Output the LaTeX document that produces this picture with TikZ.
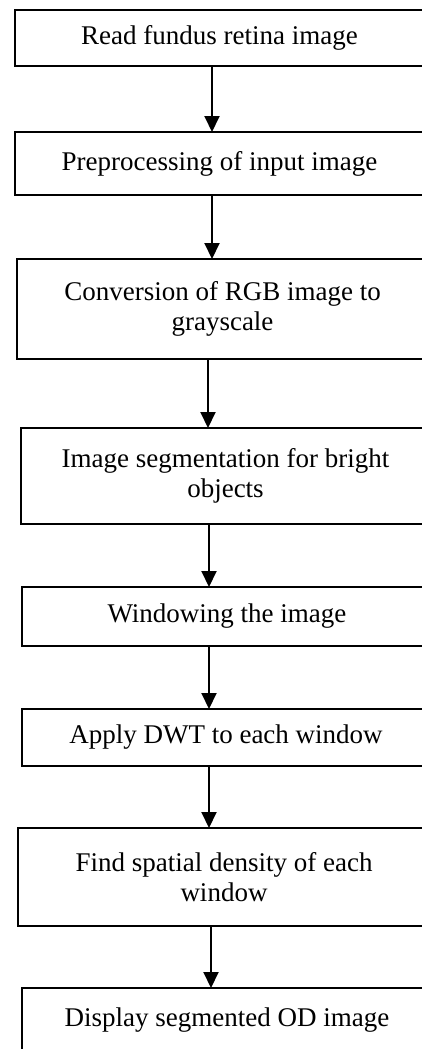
\documentclass[tikz,border=0pt]{standalone}
\usepackage{fontspec}
\setmainfont{Liberation Serif}
\usetikzlibrary{arrows.meta}
\tikzset{
	stepbox/.style={draw, line width=1.6pt, inner sep=0pt, outer sep=0pt, align=center, font=\fontsize{27}{30}\selectfont},
	flow/.style={line width=2pt, -{Triangle[length=16pt,width=15pt]}},
}

\begin{document}
\begin{tikzpicture}[x=1pt,y=-1pt]
	\useasboundingbox (0,0) rectangle (422,1049);
	\clip (0,0) rectangle (422,1049);

	\node[stepbox, minimum width=409, minimum height=56] (read) at (219.5,38) {Read fundus retina image};
	\node[stepbox, minimum width=409, minimum height=63] (pre) at (219.5,163.5) {Preprocessing of input image};
	\node[stepbox, minimum width=411, minimum height=100] (gray) at (222.5,309) {Conversion of RGB image to\\grayscale};
	\node[stepbox, minimum width=409, minimum height=96] (seg) at (225.5,476) {Image segmentation for bright\\objects};
	\node[stepbox, minimum width=410, minimum height=59] (win) at (227,616.5) {Windowing the image};
	\node[stepbox, minimum width=408, minimum height=57] (dwt) at (226,737.5) {Apply DWT to each window};
	\node[stepbox, minimum width=412, minimum height=98] (dens) at (224,877) {Find spatial density of each\\window};
	\node[stepbox, minimum width=410, minimum height=64] (disp) at (227,1020) {Display segmented OD image};

	% arrows sit a little left of the box centres
	\draw[flow] ([xshift=-7.5]read.south) -- ([xshift=-7.5]read.south |- pre.north);
	\draw[flow] ([xshift=-7.5]pre.south) -- ([xshift=-7.5]pre.south |- gray.north);
	\draw[flow] ([xshift=-14.5]gray.south) -- ([xshift=-14.5]gray.south |- seg.north);
	\draw[flow] ([xshift=-16.5]seg.south) -- ([xshift=-16.5]seg.south |- win.north);
	\draw[flow] ([xshift=-18]win.south) -- ([xshift=-18]win.south |- dwt.north);
	\draw[flow] ([xshift=-17]dwt.south) -- ([xshift=-17]dwt.south |- dens.north);
	\draw[flow] ([xshift=-13]dens.south) -- ([xshift=-13]dens.south |- disp.north);
\end{tikzpicture}
\end{document}
